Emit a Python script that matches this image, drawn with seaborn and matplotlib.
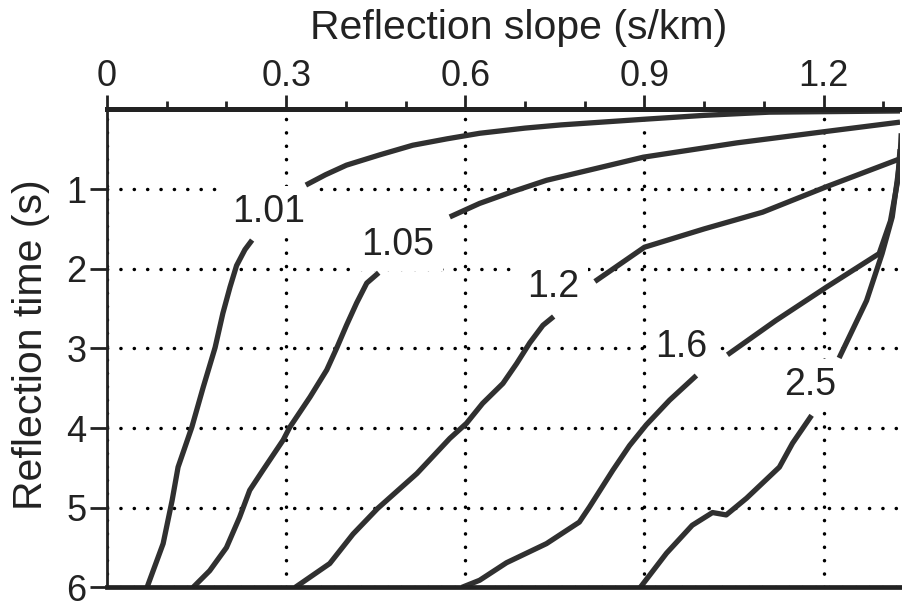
import numpy as np
import pandas as pd
import matplotlib
matplotlib.use("Agg")
import matplotlib.pyplot as plt
import seaborn as sns

# ---- data ----
labels = ["1.01", "1.05", "1.2", "1.6", "2.5"]

c101_lo_x = [0.067, 0.094, 0.109, 0.119, 0.142, 0.161, 0.181, 0.194, 0.206, 0.217, 0.231, 0.243]
c101_lo_t = [6.00, 5.45, 4.91, 4.49, 3.99, 3.49, 2.99, 2.56, 2.23, 1.96, 1.76, 1.64]
c101_up_x = [0.333, 0.366, 0.401, 0.457, 0.512, 0.569, 0.624, 0.700, 0.760, 0.897, 1.000, 1.109, 1.328]
c101_up_t = [0.95, 0.82, 0.70, 0.57, 0.45, 0.37, 0.30, 0.235, 0.195, 0.125, 0.075, 0.035, 0.02]

c105_lo_x = [0.144, 0.172, 0.200, 0.222, 0.239, 0.261, 0.295, 0.306, 0.340, 0.368, 0.385, 0.401, 0.418, 0.435, 0.455]
c105_lo_t = [6.00, 5.79, 5.50, 5.12, 4.78, 4.53, 4.15, 3.99, 3.61, 3.27, 2.99, 2.71, 2.43, 2.18, 2.05]
c105_up_x = [0.574, 0.624, 0.680, 0.736, 0.898, 1.055, 1.201, 1.328]
c105_up_t = [1.35, 1.18, 1.03, 0.89, 0.60, 0.42, 0.28, 0.16]

c12_lo_x = [0.315, 0.373, 0.412, 0.453, 0.519, 0.574, 0.602, 0.629, 0.663, 0.686, 0.708, 0.730, 0.748]
c12_lo_t = [6.00, 5.70, 5.33, 5.01, 4.57, 4.13, 3.94, 3.69, 3.44, 3.19, 2.93, 2.71, 2.60]
c12_up_x = [0.817, 0.900, 1.000, 1.098, 1.205, 1.328]
c12_up_t = [2.16, 1.73, 1.50, 1.29, 0.97, 0.62]

c16_lo_x = [0.594, 0.624, 0.669, 0.736, 0.791, 0.808, 0.847, 0.875, 0.903, 0.942, 0.987]
c16_lo_t = [6.00, 5.91, 5.69, 5.45, 5.18, 4.99, 4.53, 4.22, 3.96, 3.65, 3.34]
c16_up_x = [1.039, 1.120, 1.205, 1.293, 1.312, 1.324, 1.328]
c16_up_t = [3.08, 2.65, 2.23, 1.81, 1.40, 0.90, 0.50]

c25_lo_x = [0.893, 0.937, 0.980, 1.014, 1.037, 1.071, 1.126, 1.148, 1.180]
c25_lo_t = [6.00, 5.57, 5.22, 5.06, 5.09, 4.88, 4.49, 4.19, 3.84]
c25_up_x = [1.226, 1.272, 1.298, 1.315, 1.328, 1.330]
c25_up_t = [3.12, 2.40, 1.81, 1.35, 0.63, 0.30]

label_x = [0.271, 0.487, 0.748, 0.962, 1.178]
label_t = [1.29, 1.70, 2.23, 2.98, 3.46]

x_ticks = [0, 0.3, 0.6, 0.9, 1.2]
x_ticklabels = ["0", "0.3", "0.6", "0.9", "1.2"]
y_ticks = [1, 2, 3, 4, 5, 6]
y_ticklabels = ["1", "2", "3", "4", "5", "6"]

segments = [
    ("1.01", "lo", c101_lo_x, c101_lo_t), ("1.01", "up", c101_up_x, c101_up_t),
    ("1.05", "lo", c105_lo_x, c105_lo_t), ("1.05", "up", c105_up_x, c105_up_t),
    ("1.2", "lo", c12_lo_x, c12_lo_t), ("1.2", "up", c12_up_x, c12_up_t),
    ("1.6", "lo", c16_lo_x, c16_lo_t), ("1.6", "up", c16_up_x, c16_up_t),
    ("2.5", "lo", c25_lo_x, c25_lo_t), ("2.5", "up", c25_up_x, c25_up_t),
]
rows = []
for name, part, xs, ts in segments:
    for i, (xv, tv) in enumerate(zip(xs, ts)):
        rows.append({"curve": name, "seg": name + "_" + part, "order": i, "x": xv, "t": tv})
df = pd.DataFrame(rows)

# ---- style ----
sns.set_style("white")
plt.rcParams["font.family"] = ["Liberation Sans", "DejaVu Sans"]

fig = plt.figure(figsize=(9.03, 6.02), dpi=100)
ax = fig.add_axes([0.1185, 0.0242, 0.8782, 0.7941])

line_color = "#303030"
sns.lineplot(data=df, x="x", y="t", units="seg", estimator=None, sort=False,
             color=line_color, linewidth=3.8, ax=ax, zorder=4,
             solid_capstyle="butt", solid_joinstyle="round")

ax.set_xlim(0, 1.328)
ax.set_ylim(6, 0)

# grid
ax.set_xticks(x_ticks)
ax.set_xticklabels(x_ticklabels)
ax.set_yticks(y_ticks)
ax.set_yticklabels(y_ticklabels)
ax.set_xticks(np.arange(0.1, 1.31, 0.1), minor=True)
ax.grid(True, which="major", color="black", linewidth=2.5,
        linestyle=(0, (0.05, 3.8)), dash_capstyle="round", zorder=1)
ax.set_axisbelow(True)

# labels on curves
for lab, lx, lt in zip(labels, label_x, label_t):
    ax.text(lx, lt, lab, fontsize=27, ha="center", va="center", color="#222222",
            zorder=3, bbox=dict(facecolor="white", edgecolor="none", pad=6))

# axes decoration
ax.xaxis.tick_top()
ax.xaxis.set_label_position("top")
ax.set_xlabel("Reflection slope (s/km)", fontsize=29.5, color="#222222")
ax.xaxis.set_label_coords(0.5195, 1.147)
ax.set_ylabel("Reflection time (s)", fontsize=29.5, color="#222222")
ax.yaxis.set_label_coords(-0.072, 0.507)

ax.tick_params(axis="x", which="major", direction="out", length=10, width=2,
               labelsize=26, pad=1, colors="#222222", top=True, bottom=False)
ax.tick_params(axis="x", which="minor", direction="out", length=6, width=2,
               top=True, bottom=False, colors="#222222")
ax.tick_params(axis="y", which="major", direction="out", length=12, width=2,
               labelsize=26, pad=3, colors="#222222", left=True)
for lbl in ax.get_yticklabels():
    lbl.set_verticalalignment("center_baseline")

for side in ["top", "bottom", "left", "right"]:
    ax.spines[side].set_color("#222222")
ax.spines["right"].set_visible(False)
ax.spines["top"].set_linewidth(3.6)
ax.spines["bottom"].set_linewidth(3.4)
ax.spines["left"].set_linewidth(2.0)
for s in ax.spines.values():
    s.set_zorder(5)

fig.savefig("out.png", dpi=100)
